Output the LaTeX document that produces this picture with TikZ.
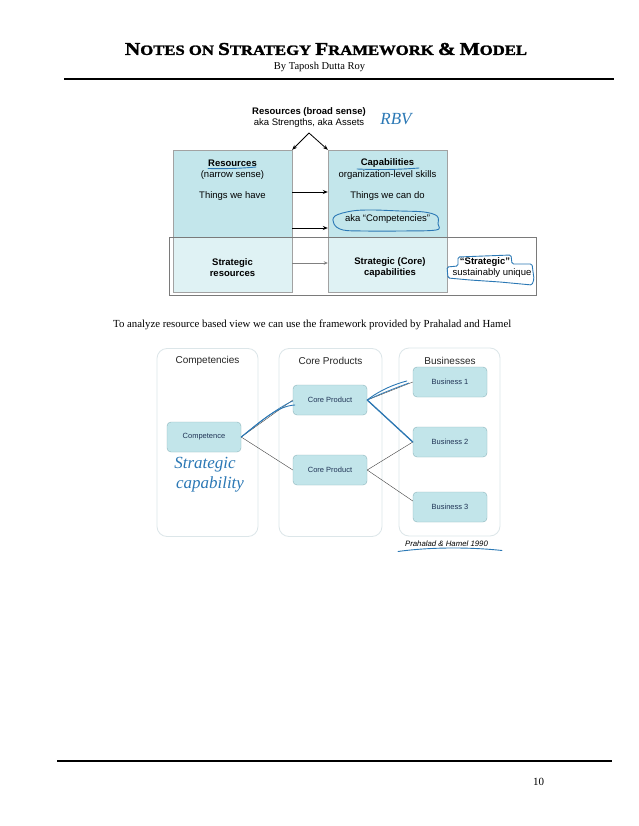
\documentclass[tikz,border=0pt]{standalone}
\usepackage{fontspec}
\setmainfont{Liberation Serif}
\setsansfont{Liberation Sans}
\newfontfamily\titlefont[FakeBold=1.6]{Liberation Serif}
\usepackage{graphicx}
\usetikzlibrary{arrows.meta,calc}
\definecolor{cyanD}{HTML}{C3E6EB}
\definecolor{cyanL}{HTML}{DFF2F4}
\definecolor{boxfill}{HTML}{C2E5EA}
\definecolor{boxline}{HTML}{8DB6BC}
\definecolor{colline}{HTML}{DCE6E9}
\definecolor{ink}{HTML}{2B78B5}
\definecolor{navy}{HTML}{1F3355}
\definecolor{framegray}{HTML}{7A7A7A}
\newcommand\BigL[1]{{\fontsize{14}{14}\selectfont #1}}
\newcommand\SmL[1]{{\fontsize{11}{11}\selectfont #1}}
\begin{document}
\begin{tikzpicture}[x=1pt,y=-1pt,
  sfb/.style={font=\sffamily\bfseries\fontsize{9.5}{11}\selectfont, inner sep=0pt, align=center},
  sfr/.style={font=\sffamily\fontsize{9.5}{11}\selectfont, inner sep=0pt, align=center},
  rbox/.style={draw=framegray!70, fill=cyanL, inner sep=0pt, minimum width=119pt, minimum height=142pt},
  arr/.style={-{Stealth[length=5pt,width=4pt]}, line width=0.8pt},
  col/.style={draw=colline, line width=0.8pt, rounded corners=10pt, inner sep=0pt, minimum width=101pt, minimum height=188pt},
  pbox/.style={draw=boxline, fill=boxfill, rounded corners=4pt, inner sep=0pt, minimum width=74pt, minimum height=30pt, font=\sffamily\fontsize{7.5}{9}\selectfont, text=navy},
  ctitle/.style={font=\sffamily\fontsize{10}{12}\selectfont, text=black!85, inner sep=0pt},
  link/.style={draw=black!75, line width=0.4pt},
  inkline/.style={draw=ink, line width=0.9pt, line cap=round},
  hand/.style={font=\itshape\fontsize{17}{17}\selectfont, text=ink, inner sep=0pt}
]
\useasboundingbox[fill=white] (0,0) rectangle (638,826);

% ---------- header ----------
\node[inner sep=0pt] (title) at (326,49) {\resizebox{402pt}{12pt}{\titlefont\bfseries \BigL{N}\SmL{OTES ON }\BigL{S}\SmL{TRATEGY }\BigL{F}\SmL{RAMEWORK }\BigL{\&}\SmL{ }\BigL{M}\SmL{ODEL}}};
\node[inner sep=0pt, font=\fontsize{10.5}{12}\selectfont] (author) at (319.5,66.5) {By Taposh Dutta Roy};
\draw[line width=2pt] (64,79) -- (614,79);

% ---------- diagram 1 ----------
\node[sfb] (broad) at (309,112) {Resources (broad sense)};
\node[sfr] (aka) at (309,123.5) {aka Strengths, aka Assets};
\node[hand] (rbv) at (396,119) {RBV};
\coordinate (apex) at (309,133);

\node[rbox] (lbox) at (232.5,221) {};
\node[rbox] (rbox) at (387.5,221) {};
\fill[cyanD] (lbox.north west) rectangle (292,237);
\fill[cyanD] (rbox.north west) rectangle (448,237);
\draw[framegray!70] (lbox.north west) rectangle (lbox.south east);
\draw[framegray!70] (rbox.north west) rectangle (rbox.south east);
\node[draw=framegray, line width=0.7pt, inner sep=0pt, minimum width=367pt, minimum height=58pt] (strat) at (352.5,266) {};

\draw[arr] (apex) -- (lbox.north east);
\draw[arr] (apex) -- (rbox.north west);

\node[sfb] (res) at (232.5,163) {Resources};
\node[sfr] (narrow) at (232.5,175) {(narrow sense)};
\node[sfr] (have) at (232.5,196.5) {Things we have};
\node[sfb] (cap) at (387.5,163) {Capabilities};
\node[sfr] (org) at (387.5,175) {organization-level skills};
\node[sfr] (cando) at (387.5,196.5) {Things we can do};
\node[sfr] (compet) at (387.5,219) {aka “Competencies”};

\node[sfb] (sres) at (232.5,267.5) {Strategic\\resources};
\node[sfb] (score) at (390,267.5) {Strategic (Core)\\capabilities};
\node[sfb] (squote) at (485,262) {“Strategic”};
\node[sfr] (suniq) at (492,273) {sustainably unique};

\draw[arr] (lbox.east |- 0,192) -- (rbox.west |- 0,192);
\draw[arr] (lbox.east |- 0,228) -- (rbox.west |- 0,228);
\draw[-{Stealth[length=4pt,width=3.5pt]}, draw=gray, fill=gray, line width=0.7pt] (lbox.east |- 0,263) -- (rbox.west |- 0,263);

% ink annotations diagram 1
\draw[inkline] (208,168.5) .. controls (230,169) and (245,168) .. (256,167);
\draw[inkline] (357,169) .. controls (380,170) and (400,169.5) .. (419,168);
\draw[inkline] plot[smooth cycle, tension=0.6] coordinates {(335,216) (352,211) (372,210) (400,211) (424,212) (437,216) (438,224) (436,230) (400,231) (365,231) (343,230) (334,224)};
\draw[inkline, rounded corners=1.5pt] (458,257) -- (484,256) -- (511,255) -- (512,264) -- (532,264) -- (534,279) -- (532,285) -- (500,282) -- (470,280) -- (448,278) -- (447,267) -- (458,266) -- cycle;

% ---------- text line ----------
\node[inner sep=0pt, font=\fontsize{10.8}{12}\selectfont, anchor=west] (intro) at (113,325) {To analyze resource based view we can use the framework provided by Prahalad and Hamel};

% ---------- diagram 2 ----------
\node[col] (col1) at (207.5,442.5) {};
\node[col, minimum width=103pt] (col2) at (330.5,442.5) {};
\node[col] (col3) at (449.5,442) {};
\node[ctitle] (t1) at (207.5,361) {Competencies};
\node[ctitle] (t2) at (330.5,361) {Core Products};
\node[ctitle] (t3) at (450,361) {Businesses};

\node[pbox] (comp) at (204,437) {Competence};
\node[pbox] (cp1) at (330,400) {Core Product};
\node[pbox] (cp2) at (330,470) {Core Product};
\node[pbox] (b1) at (450,382) {Business 1};
\node[pbox] (b2) at (450,442) {Business 2};
\node[pbox] (b3) at (450,507) {Business 3};

\draw[link] (comp.east) -- (cp1.west);
\draw[link] (comp.east) -- (cp2.west);
\draw[link] (cp1.east) -- (b1.west);
\draw[link] (cp1.east) -- (b2.west);
\draw[link] (cp2.east) -- (b2.west);
\draw[link] (cp2.east) -- ($(b3.west)+(0,-6)$);

% ink on diagram 2
\draw[inkline] (comp.east) .. controls (262,420) and (278,406) .. ($(cp1.west)+(2,5)$);
\draw[inkline, line width=0.7pt] (comp.east) .. controls (258,424) and (275,409) .. ($(cp1.west)+(0,1)$);
\draw[inkline] (cp1.east) .. controls (380,390) and (395,384) .. ($(b1.west)+(-6,-1)$);
\draw[inkline, line width=0.7pt] (cp1.east) .. controls (382,393) and (398,387) .. ($(b1.west)+(-4,1)$);
\draw[inkline, line width=1.3pt] (cp1.east) -- (b2.west);

\node[hand] (strtg) at (205,465) {Strategic};
\node[hand] (capab) at (210,484) {capability};

\node[inner sep=0pt, font=\sffamily\itshape\fontsize{7.8}{9}\selectfont] (ph) at (446.5,544) {Prahalad \& Hamel 1990};
\draw[inkline] (398,551.5) .. controls (430,547) and (470,547) .. (502,550.5);

% ---------- footer ----------
\draw[line width=2pt] (57,761) -- (612,761);
\node[inner sep=0pt, font=\fontsize{11}{12}\selectfont] (pnum) at (538.5,781.5) {10};
\end{tikzpicture}
\end{document}
